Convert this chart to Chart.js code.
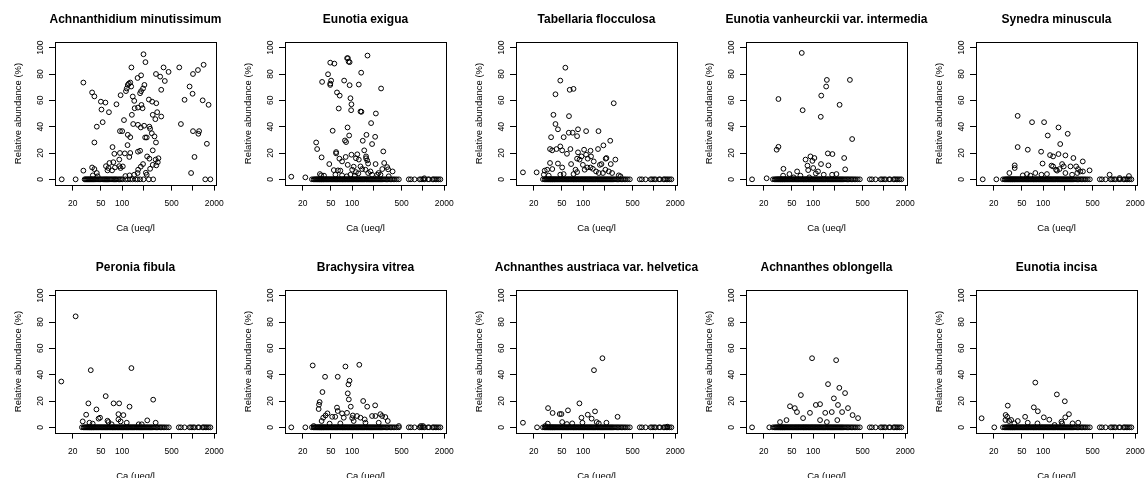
<!DOCTYPE html>
<html>
<head>
<meta charset="utf-8">
<script src="https://cdn.jsdelivr.net/npm/chart.js@4.4.1/dist/chart.umd.min.js"></script>
<style>
  html, body { margin: 0; padding: 0; background: #fff; overflow: hidden; }
  #grid { position: relative; width: 1146px; height: 478px; overflow: hidden; }
  #grid canvas { position: absolute; }
</style>
</head>
<body>
<div id="grid"></div>
<script>
// Panel titles, in plotting order (2 rows x 5 columns)
const speciesNames = [
    'Achnanthidium minutissimum', 'Eunotia exigua', 'Tabellaria flocculosa',
    'Eunotia vanheurckii var. intermedia', 'Synedra minuscula',
    'Peronia fibula', 'Brachysira vitrea', 'Achnanthes austriaca var. helvetica',
    'Achnanthes oblongella', 'Eunotia incisa'
];

const xTickValues = [20, 50, 100, 200, 500, 1000, 2000];
const xTickLabels = ['20', '50', '100', '', '500', '', '2000'];
const yTickValues = [0, 20, 40, 60, 80, 100];

// Ca (ueq/l) of the samples
const caDense = [27, 28.5, 29.5, 30.5, 31.2, 32, 32.8, 33.5, 34.3, 35, 35.7, 36.5, 37.2, 38, 39, 39.8,
    40.8, 41.7, 42.8, 43.9, 45, 46.2, 47.3, 48.6, 50, 51.2, 52.6, 54, 55.5, 57, 58.3, 60, 61.5, 63,
    64.8, 66.5, 68, 70, 72, 73.5, 75.5, 77.5, 79.5, 81.5, 84, 86, 88.5, 91, 93.5, 96, 98.5, 101, 104,
    106.5, 109.5, 112.5, 115.5, 118.5, 122, 125, 128.5, 132, 136, 140, 144, 148, 152, 157, 161, 166,
    171, 176, 181, 187, 193, 199, 205, 212, 219, 226, 234, 242, 251, 260, 270, 281, 292, 304, 317,
    331, 346, 362, 380, 400, 425, 456];
const caHigh = [630, 675, 760, 895, 940, 1000, 1050, 1175, 1220, 1370, 1420, 1490, 1570, 1660, 1760];

// Samples where Achnanthidium minutissimum is absent
const achMinZeros = [14, 22, 29.5, 30.5, 31.5, 32.5, 33.5, 34.5, 35.5, 36.5, 37.5, 38.5, 39.5, 41, 42.5,
    44, 45.5, 47, 48.5, 50, 52, 54, 56, 58, 60, 62, 64.5, 67, 69.5, 72, 75, 78, 81, 84, 88, 92, 96,
    100, 111, 120, 130, 140, 155, 165, 179, 200, 238, 274, 1490, 1760];

// Non-zero abundances [Ca, %] per species
const achMinPts = [[200,95],[213,89],[135,85],[28.3,73.5],[185,79],[165,77],[300,80],[344,78],[384,85],
    [452,81.6],[400,74.7],[356,68],[130,73.5],[124,72.7],[120,71.7],[134,70.5],[116,69],[113,67],[206,71.7],
    [197,69],[185,67],[179,65.4],[95,63.9],[37.6,66],[40.5,63],[50,59],[58,58.3],[83,57],[51,53],[65,51],
    [53,43.4],[43.8,40],[40.5,28],[141,62.9],[148,59.6],[238,60.6],[265,59],[303,57.8],[187,56.5],[194,54],
    [150,54],[167,54.5],[137,49],[270,49],[312,51],[294,45.7],[356,47.7],[106,45],[143,42],[167,41.4],
    [183,39.4],[242,40],[248,38.4],[204,40.7],[93,36.6],[100,36.6],[120,33.8],[130,32],[211,31.8],[222,31.8],
    [262,35],[286,32.6],[119,26],[300,28],[270,22],[73,24.5],[77.5,19.4],[93,20],[109,19.7],[130,20],
    [126,17],[167,21],[179,21.7],[225,17.4],[242,15.7],[297,15],[325,16],[91,15],[75,13],[66,12.4],[59,10],
    [91,10],[102,9.8],[79,9],[64,8.6],[95,8.6],[37.6,9],[40.5,7.8],[28.3,6.6],[43.8,4.8],[62,6.8],[72,6.8],
    [168,7.3],[183,9.6],[197,11.6],[216,5],[248,8],[318,13],[303,10.6],[270,11],[165,4.8],[148,3.5],
    [127,3],[111,2.5],[222,3.5],[38.5,3],[45,2.3],
    [640,85],[760,60.4],[675,42],[895,70.5],[986,65],[1000,80],[1175,83],[1413,87],[1370,60],[1660,56.6],
    [1000,36.6],[1220,36.6],[1190,34.6],[1570,27],[1050,17],[940,4.8]];

const eunExiPts = [[164.5,94],[84.8,92],[87,92],[89,89.4],[92,89],[49,88.6],[56,87.9],[45.6,79.8],[37.6,74],
    [50.4,75],[49,72.7],[49,71.7],[77,75],[92,71.5],[124,72],[134,81],[256,69],[61,66],[66.6,63.6],[64.6,53.8],
    [94.5,61.6],[97.6,57],[96.6,52.5],[131,51.5],[135,51.3],[216,50],[185,42.7],[53,36.9],[86,39.4],[159,33.8],
    [211,32.3],[79,29.5],[82,28.3],[90.6,33.3],[141,29.3],[191,26.8],[31,28],[32,23],[37,16.7],[47.5,11.6],
    [59.3,20.7],[59.3,19.7],[66,15.7],[72,13.6],[81,17],[86.5,11],[97.6,18.7],[118,19],[113,16],[124,15],
    [148,22],[157,17.4],[157,16],[163,14.4],[168,12],[214,11.6],[275,21.2],[283,12.4],[312,9.3],[322,7.6],
    [372,6],[266,7.8],[63,6.8],[55,7],[68,6.6],[100,7.3],[105,9.6],[131,9.8],[138,7.8],[113,5.5],[122,4.5],
    [154,7.3],[168,4.8],[181,6],[236,4.8],[251,3.5],[328,2.3],[35,4],[36.5,3],[40,2.8],[58,3.5],[72,3],
    [84,2.3],[94.5,3.5],[109,2.8],[191,3.5],[225,3.5],[13.8,2],[21.8,1.5],[1045,0.8]];

const tabFloPts = [[56,84.8],[47.5,75],[64.5,68],[73,68.7],[40.6,64.6],[270,57.8],[38,49],[63,48],[40.6,42],
    [44,38],[84.5,38],[35.2,32],[53,32],[62.6,35.4],[71,35.4],[82,32.8],[110,36.6],[164.5,36.6],[241,29.3],
    [193,25.8],[34,23],[36.5,22],[42,23],[47.5,25],[50.5,22],[66,23],[59,19.4],[103,22.5],[127,21.7],[162,23],
    [213,16.2],[208,15.7],[285,15],[245,11.6],[84.5,20.5],[94.5,17.4],[110,18.7],[129,17.4],[116,15.7],
    [82,15.7],[67.5,11.6],[34,12.4],[44,12],[50.5,9],[89,15],[99,11],[141,13.6],[172,11],[181,11.6],[114,9],
    [127,9],[137,8],[105,7.3],[78,7.3],[82,5.5],[73,4],[28.6,6.6],[31,7.3],[36.6,7.8],[27.8,3.5],[32.6,2.8],
    [53,4],[47.5,3.5],[14.1,5.3],[22,5.3],[206,7.3],[230,6],[256,4.8],[318,3],[336,2.3],[152,6],[166,4.8],
    [190,4.8]];

const eunVanPts = [[69,96],[32.3,61],[156,75.5],[330,75.5],[152.5,70.5],[130,63.6],[236,56.6],[71,52.5],
    [128,47.5],[355,30.6],[32.3,24.7],[30.5,22.5],[161,19.7],[187,19.2],[274,16.2],[91.5,17.4],[104,16.2],
    [78,15],[97.5,14],[129,11.6],[164,10.6],[83,10.4],[100,8.6],[38,8],[85,7],[283,7.6],[59.3,6],[117,6],
    [46.2,4],[109,4.5],[141,3.5],[185,3.5],[213,4],[37.6,2.8],[66,2.8],[53,1.5],[88,1.5],[22,0.8]];
const eunVanZeros = [13.7];

const synMinPts = [[43.6,48.2],[69.6,43.4],[103,43.4],[164.5,39.4],[116,33.3],[222,34.6],[174,26.8],
    [43.6,24.5],[60.6,22.5],[93.5,21],[125,18.4],[164.5,19.2],[206,18.2],[267,16.2],[362,13.6],[98,12],
    [138,17.4],[39.6,10.6],[39.6,8.6],[138,9.8],[131,10.4],[185,11.6],[152,7.3],[157,6.6],[170,7.8],
    [195,9.8],[243,9.8],[292,9.8],[311,7.8],[334,6],[364,6],[452,6.8],[303,4.8],[33.3,4.8],[59,4],
    [77.5,4.8],[94.5,3.5],[113,4],[206,4.8],[256,3.5],[51.5,3],[66,2.8],[867,3.5],[1626,2.5],[1200,1]];
const synMinZeros = [14, 21.8];

const perFibPts = [[22,84.3],[13.8,34.8],[36,43.4],[135,45],[58.5,23.7],[33.3,18.2],[75.6,18.2],[90.6,18.2],
    [127,15.7],[274,21],[43.3,13.6],[48.7,7.3],[46.4,6.6],[31,9.6],[88.5,10],[104,9.3],[27.7,4.5],[34.5,3.5],
    [38.3,2.8],[62,5],[64,4],[88.5,6],[95,4.5],[116,3.5],[226,5.3],[297,3.5],[71,2.3],[171,2.3],[189,2.3]];
const perFibZeros = [];

const braVitPts = [[27.7,47],[80.3,46.2],[126,47.5],[41.4,38.4],[62.5,38.4],[91.7,35.4],[88.6,32.6],[38,26.8],
    [86.6,25.8],[89.6,21.2],[34.7,19.2],[34,17.2],[33.6,13.9],[143,20],[163,15.7],[211,16.7],[61,15],
    [62.5,12.4],[95.5,15.7],[44.7,10.6],[42,9],[39,7.3],[37,4.8],[52.2,8],[57.6,8],[72,10.6],[84.5,11],
    [76,7.3],[100,7],[102,9],[117,8.6],[131,7.3],[150,6],[191,8.6],[213,8.6],[250,10],[265,8.6],[294,7.8],
    [318,4.8],[154,3.5],[237,3.5],[28.6,1],[48,2.8],[68,3],[105,4.8],[456,1],[930,1],[1000,1]];
const braVitZeros = [13.8, 21.8];

const achAusPts = [[187,52.5],[142,43.4],[88.5,18.2],[31.9,14.6],[37,10.9],[46.6,10.1],[49.3,10.1],[61,12.9],
    [147,12.1],[116,9.6],[131.6,6.6],[94.5,7.3],[306,8],[14.1,3.5],[50.5,4],[155,4],[166,3],[213,3.5],
    [97.6,3.5],[70,3],[59,2.5],[31.6,2.8],[29.2,1],[1540,0.5]];
const achAusZeros = [22.3];

const achOblPts = [[96.4,52.5],[211,51],[162,32.8],[234,30],[282,26],[196,22],[224,17],[125,17.6],[183,11.6],
    [67,24.5],[47,16],[55,14.6],[90,11],[109,17],[148,11],[256,11.6],[310,14.6],[360,9.3],[430,7],[72,7],
    [59,11.6],[42,5.5],[34,4],[125,5.5],[156,4],[219,5.5]];
const achOblZeros = [13.7, 24];

const eunIncPts = [[77.4,34],[156,25],[202,19.8],[231,10],[205,7.6],[73.7,15.2],[84,12.2],[31.6,16.5],
    [13.5,6.9],[29.5,9.4],[31,8],[29.3,5.6],[33,4.8],[43.8,4.8],[55.6,8],[102,7.6],[122,5.8],[181,4.3],
    [260,3],[312,3.5],[185,3],[39.2,3],[60.5,3.5],[83,3],[145,1.8],[35.3,5.6]];
const eunIncZeros = [20.4];

const FONT = "'Liberation Sans', Arial, Helvetica, sans-serif";
const COL_STEP = 230.25;
const ROW_STEP = 248;

// Closed frame round the plot region, as R's box()
const plotBox = {
    id: 'plotBox',
    afterDraw(chart) {
        const { ctx, chartArea: a } = chart;
        ctx.save();
        ctx.strokeStyle = '#000';
        ctx.lineWidth = 1;
        ctx.strokeRect(Math.round(a.left) + 0.5, Math.round(a.top) + 0.5,
            Math.round(a.right) - Math.round(a.left), Math.round(a.bottom) - Math.round(a.top));
        ctx.restore();
    }
};

function toPoints(zeros, pts) {
    const out = zeros.map(x => ({ x: x, y: 0 }));
    pts.forEach(p => out.push({ x: p[0], y: p[1] }));
    return out;
}

function axisGrid() {
    return { drawOnChartArea: false, drawTicks: true, tickLength: 6, color: '#000', lineWidth: 1 };
}

function buildPanel(index, name, data) {
    const col = index % 5;
    const row = Math.floor(index / 5);
    const canvas = document.createElement('canvas');
    canvas.width = 271;
    canvas.height = 240;
    canvas.style.left = Math.round(col * COL_STEP) + 'px';
    canvas.style.top = (row * ROW_STEP) + 'px';
    document.getElementById('grid').appendChild(canvas);

    new Chart(canvas, {
        type: 'scatter',
        data: {
            datasets: [{
                data: data,
                pointRadius: 2.4,
                pointBorderWidth: 1,
                pointBackgroundColor: 'rgba(0,0,0,0)',
                pointBorderColor: '#000'
            }]
        },
        options: {
            responsive: false,
            animation: false,
            devicePixelRatio: 1,
            events: [],
            layout: { padding: 0 },
            plugins: {
                legend: { display: false },
                tooltip: { enabled: false },
                title: {
                    display: true,
                    text: name,
                    color: '#000',
                    font: { family: FONT, size: 12, weight: 'bold', lineHeight: 1.2 },
                    padding: { top: 12.8, bottom: 15.2 }
                }
            },
            scales: {
                x: {
                    type: 'logarithmic',
                    min: 11.25,
                    max: 2113,
                    bounds: 'data',
                    afterBuildTicks: s => { s.ticks = xTickValues.map(v => ({ value: v })); },
                    afterFit: s => { s.height = 55.4; },
                    ticks: {
                        autoSkip: false, minRotation: 0, maxRotation: 0, padding: 7.5,
                        color: '#000', font: { family: FONT, size: 8.5 },
                        callback: (v, i) => xTickLabels[i]
                    },
                    grid: axisGrid(),
                    border: { display: false },
                    title: {
                        display: true, text: 'Ca (ueq/l', color: '#000',
                        font: { family: FONT, size: 9.5, lineHeight: 1.2 },
                        padding: { top: 0, bottom: 6.3 }
                    }
                },
                y: {
                    type: 'linear',
                    min: -4,
                    max: 104,
                    afterBuildTicks: s => { s.ticks = yTickValues.map(v => ({ value: v })); },
                    afterFit: s => { s.width = 55; },
                    ticks: {
                        minRotation: 90, maxRotation: 90, crossAlign: 'center', padding: 1,
                        color: '#000', font: { family: FONT, size: 8.5 },
                        callback: v => String(v)
                    },
                    grid: axisGrid(),
                    border: { display: false },
                    title: {
                        display: true, text: 'Relative abundance (%)', color: '#000',
                        font: { family: FONT, size: 9.5, lineHeight: 1.2 },
                        padding: { top: 12.8, bottom: 0 }
                    }
                },
                // empty right margin so the title centres over the plot box, as in R
                margin: {
                    type: 'linear',
                    position: 'right',
                    display: true,
                    afterFit: s => { s.width = 55; },
                    ticks: { display: false },
                    grid: { display: false },
                    border: { display: false }
                }
            }
        },
        plugins: [plotBox]
    });
}

const allZeros = caDense.concat(caHigh);
const panelData = [
    toPoints(achMinZeros, achMinPts),
    toPoints(allZeros, eunExiPts),
    toPoints(allZeros, tabFloPts),
    toPoints(allZeros.concat(eunVanZeros), eunVanPts),
    toPoints(allZeros.concat(synMinZeros), synMinPts),
    toPoints(allZeros.concat(perFibZeros), perFibPts),
    toPoints(allZeros.concat(braVitZeros), braVitPts),
    toPoints(allZeros.concat(achAusZeros), achAusPts),
    toPoints(allZeros.concat(achOblZeros), achOblPts),
    toPoints(allZeros.concat(eunIncZeros), eunIncPts)
];

speciesNames.forEach((name, i) => buildPanel(i, name, panelData[i]));
</script>
</body>
</html>
